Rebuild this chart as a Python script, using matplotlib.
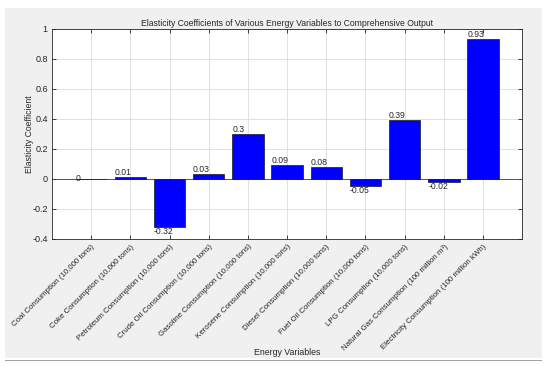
import matplotlib
matplotlib.use('Agg')
import matplotlib.pyplot as plt
from matplotlib.patches import Rectangle
from matplotlib.transforms import ScaledTranslation

categories = [
    'Coal Consumption (10,000 tons)',
    'Coke Consumption (10,000 tons)',
    'Petroleum Consumption (10,000 tons)',
    'Crude Oil Consumption (10,000 tons)',
    'Gasoline Consumption (10,000 tons)',
    'Kerosene Consumption (10,000 tons)',
    'Diesel Consumption (10,000 tons)',
    'Fuel Oil Consumption (10,000 tons)',
    'LPG Consumption (10,000 tons)',
    'Natural Gas Consumption (100 million m³)',
    'Electricity Consumption (100 million kWh)',
]
values = [0, 0.01, -0.32, 0.03, 0.3, 0.09, 0.08, -0.05, 0.39, -0.02, 0.93]
labels = ['0', '0.01', '-0.32', '0.03', '0.3', '0.09', '0.08', '-0.05', '0.39', '-0.02', '0.93']
yticks = [-0.4, -0.2, 0, 0.2, 0.4, 0.6, 0.8, 1]
ytick_labels = ['-0.4', '-0.2', '0', '0.2', '0.4', '0.6', '0.8', '1']

plt.rcParams['font.family'] = ['Liberation Sans', 'DejaVu Sans']

TEXT = '#262626'
EDGE = '#262626'

fig = plt.figure(figsize=(5.5, 3.66), dpi=100, facecolor='white')
# grey MATLAB-style figure panel
fig.patches.append(Rectangle((0.009, 0.022), 0.976, 0.956, transform=fig.transFigure,
                             facecolor='#f0f0f0', edgecolor='none', zorder=-10))
fig.patches.append(Rectangle((0.009, 0.013), 0.976, 0.004, transform=fig.transFigure,
                             facecolor='#a0a0a0', edgecolor='none', zorder=-10))

ax = fig.add_axes([0.0945, 0.347, 0.855, 0.574])
ax.set_facecolor('white')

x = list(range(1, len(values) + 1))
ax.bar(x, values, width=0.8, color='#0000ff', edgecolor='#1a1a1a', linewidth=0.5, zorder=3)
ax.axhline(0, color='#404040', linewidth=0.6, zorder=2)

for xi, v, lab in zip(x, values, labels):
    if v > 0:
        va = 'bottom'
    elif v < 0:
        va = 'top'
    else:
        va = 'center'
    ax.text(xi - 0.4, v, lab, ha='left', va=va, fontsize=6.2, color=TEXT, zorder=4)

ax.set_xlim(0, 12)
ax.set_ylim(-0.4, 1)
ax.set_yticks(yticks)
ax.set_yticklabels(ytick_labels)
ax.set_xticks(x)
ax.set_xticklabels(categories, rotation=45, ha='right', rotation_mode='anchor', fontsize=5.7, color=TEXT)
shift = ScaledTranslation(4 / 100, 0, fig.dpi_scale_trans)
for t in ax.get_xticklabels():
    t.set_transform(t.get_transform() + shift)
ax.tick_params(axis='y', labelsize=6.5, labelcolor=TEXT)
ax.tick_params(direction='in', top=True, right=True, length=3, width=0.6, color=EDGE, pad=3)

ax.grid(True, color='#dcdcdc', linewidth=0.6, zorder=0)
ax.set_axisbelow(True)
for sp in ax.spines.values():
    sp.set_color(EDGE)
    sp.set_linewidth(0.6)

ax.set_title('Elasticity Coefficients of Various Energy Variables to Comprehensive Output',
             fontsize=6.2, color=TEXT, pad=2)
ax.set_xlabel('Energy Variables', fontsize=6.3, color=TEXT, labelpad=0)
ax.set_ylabel('Elasticity Coefficient', fontsize=6.2, color=TEXT, labelpad=-1)
ax.xaxis.set_label_coords(0.5, -0.52)

fig.savefig('out.png', dpi=100, facecolor=fig.get_facecolor())
